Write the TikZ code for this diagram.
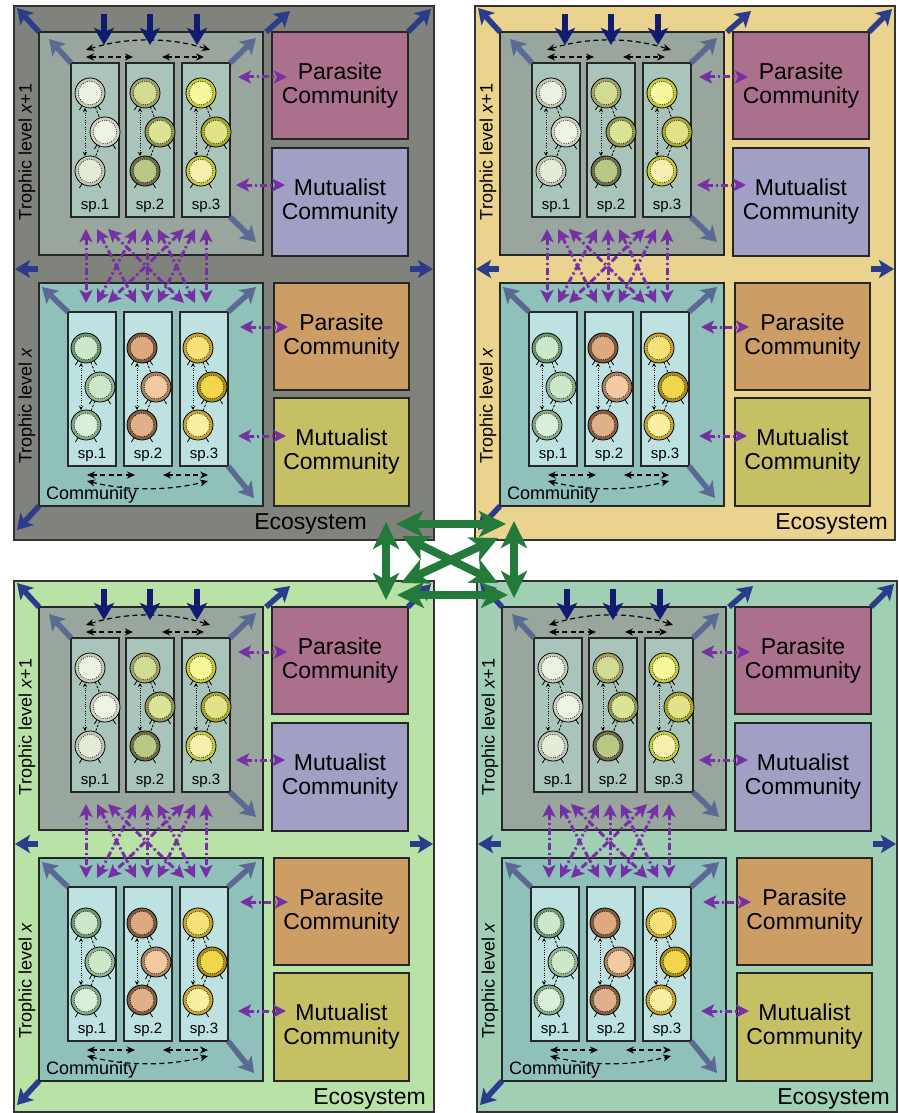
\documentclass[tikz,border=0pt]{standalone}
\usepackage{fontspec}
\setmainfont{Liberation Sans}
\usetikzlibrary{arrows.meta,calc}

\definecolor{bgTL}{HTML}{80827C}
\definecolor{bgTR}{HTML}{E9D38F}
\definecolor{bgBL}{HTML}{B9E2A6}
\definecolor{bgBR}{HTML}{A1CFB4}
\definecolor{upbox}{HTML}{98A69E}
\definecolor{spU}{HTML}{A9C4BB}
\definecolor{lobox}{HTML}{8FC0B9}
\definecolor{spL}{HTML}{BEE1E1}
\definecolor{parU}{HTML}{AA708C}
\definecolor{mutU}{HTML}{A1A0C4}
\definecolor{parL}{HTML}{CC9E66}
\definecolor{mutL}{HTML}{C5C064}
\definecolor{navyc}{HTML}{111C6E}
\definecolor{bluec}{HTML}{2A3C8A}
\definecolor{slatec}{HTML}{5B6A92}
\definecolor{purp}{HTML}{7530A3}
\definecolor{greenc}{HTML}{237A3B}
% upper circles: ring / inner
\definecolor{ru11}{HTML}{C3CBB5}\definecolor{iu11}{HTML}{EAF3E3}
\definecolor{ru12}{HTML}{D0D4C4}\definecolor{iu12}{HTML}{EDF4E6}
\definecolor{ru13}{HTML}{C4C8B8}\definecolor{iu13}{HTML}{E2EDD8}
\definecolor{ru21}{HTML}{A0A46E}\definecolor{iu21}{HTML}{D2DB92}
\definecolor{ru22}{HTML}{8E9658}\definecolor{iu22}{HTML}{DCE394}
\definecolor{ru23}{HTML}{6E6E48}\definecolor{iu23}{HTML}{B8C985}
\definecolor{ru31}{HTML}{C8CB3C}\definecolor{iu31}{HTML}{F6F89C}
\definecolor{ru32}{HTML}{A8AA2E}\definecolor{iu32}{HTML}{E2E28A}
\definecolor{ru33}{HTML}{C8CB3C}\definecolor{iu33}{HTML}{F5F0B0}
% lower circles
\definecolor{rl11}{HTML}{6B9870}\definecolor{il11}{HTML}{CBE8CA}
\definecolor{rl12}{HTML}{94B494}\definecolor{il12}{HTML}{CBE8C9}
\definecolor{rl13}{HTML}{84AC84}\definecolor{il13}{HTML}{DAEEDA}
\definecolor{rl21}{HTML}{7E5C40}\definecolor{il21}{HTML}{DDAA80}
\definecolor{rl22}{HTML}{A88464}\definecolor{il22}{HTML}{F2C9A0}
\definecolor{rl23}{HTML}{84603E}\definecolor{il23}{HTML}{DFB08A}
\definecolor{rl31}{HTML}{C9A52F}\definecolor{il31}{HTML}{F7E27A}
\definecolor{rl32}{HTML}{A88D1E}\definecolor{il32}{HTML}{F0D64A}
\definecolor{rl33}{HTML}{C9A52F}\definecolor{il33}{HTML}{F8EFA0}

\newcommand\fBig{\fontsize{23pt}{24pt}\selectfont}
\newcommand\fMid{\fontsize{18pt}{20pt}\selectfont}
\newcommand\fSml{\fontsize{15pt}{17pt}\selectfont}

\tikzset{
  panelbox/.style={draw=black!80, line width=1.2pt, anchor=north west, inner sep=0pt, outer sep=0pt},
  tbox/.style={draw=black!85, line width=1.1pt, anchor=north west, inner sep=0pt, outer sep=0pt},
  spbox/.style={tbox, minimum width=48pt, minimum height=154pt},
  combox/.style={tbox, align=center, font=\fBig, minimum width=136pt},
  orgnode/.style={circle, draw=black, line width=0.8pt, minimum size=30pt, inner sep=0pt, outer sep=0pt},
  splab/.style={font=\fSml, inner sep=0pt},
  navyarr/.style={draw=navyc, line width=5.5pt, -{Stealth[length=17pt,width=20pt,inset=4pt]}},
  bluearr/.style={draw=bluec, line width=5.5pt, -{Stealth[length=15pt,width=18pt,inset=3.5pt]}},
  slatearr/.style={draw=slatec, line width=5.5pt, -{Stealth[length=15pt,width=18pt,inset=3.5pt]}},
  purparr/.style={draw=purp, fill=purp, line width=3pt, dash pattern=on 7pt off 3pt on 2pt off 3pt,
     {Stealth[length=13pt,width=13pt,inset=3pt]}-{Stealth[length=13pt,width=13pt,inset=3pt]}},
  blkarr/.style={draw=black, line width=1.2pt, dash pattern=on 5pt off 3.5pt,
     {Stealth[length=8pt,width=7pt]}-{Stealth[length=8pt,width=7pt]}},
  vdot/.style={draw=black, line width=0.8pt, dash pattern=on 1pt off 1.3pt,
     {Stealth[length=4pt,width=4pt]}-{Stealth[length=4pt,width=4pt]}},
  ddash/.style={draw=black, line width=0.8pt, dash pattern=on 2.5pt off 1.5pt},
  greenarr/.style={draw=greenc, line width=8pt,
     {Stealth[length=27pt,width=26pt,inset=7pt]}-{Stealth[length=27pt,width=26pt,inset=7pt]}},
}

% organism circle: name, x, y, ring colour, inner colour
\newcommand\orgc[5]{%
  \node[orgnode, fill=#4] (#1) at (#2,#3) {};
  \fill[#5] (#1.center) circle[radius=11.8pt];
  \draw[black, line width=0.7pt, dash pattern=on 0.8pt off 1.5pt] (#1.center) circle[radius=11.8pt];
  \draw[black, line width=0.8pt] (#1.-122) -- ++(-122:5pt);
  \draw[black, line width=0.8pt] (#1.-58) -- ++(-58:5pt);
}

% ecosystem panel: prefix, x, y, background, height, x of right end of "Ecosystem"
\newcommand\ecopanel[6]{%
\begin{scope}[shift={(#2,#3)}]
  \node[panelbox, fill=#4, minimum width=420pt, minimum height=#5pt] (#1eco) at (0,0) {};
  \node[tbox, fill=upbox, minimum width=224pt, minimum height=223pt] (#1up) at (25,26) {};
  \node[tbox, fill=lobox, minimum width=224pt, minimum height=223pt] (#1lo) at (25,277) {};
  \node[combox, fill=parU, minimum height=107pt] (#1parU) at (258,26) {Parasite\\Community};
  \node[combox, fill=mutU, minimum height=108pt] (#1mutU) at (258,142) {Mutualist\\Community};
  \node[combox, fill=parL, minimum width=135pt, minimum height=107pt] (#1parL) at (260,277) {Parasite\\Community};
  \node[combox, fill=mutL, minimum width=135pt, minimum height=108pt] (#1mutL) at (260,392) {Mutualist\\Community};
  % labels
  \node[rotate=90, font=\fMid, inner sep=0pt] (#1tlu) at (13,146) {Trophic level \textit{x}+1};
  \node[rotate=90, font=\fMid, inner sep=0pt] (#1tll) at (13,400) {Trophic level \textit{x}};
  \node[font=\fMid, anchor=west, inner sep=0pt] (#1com) at (32,489) {Community};
  \node[font=\fBig, anchor=east, inner sep=0pt] (#1ecl) at (#6,518) {Ecosystem};
  % upper species
  \foreach \k/\xx in {1/57,2/112,3/168}{
    \node[spbox, fill=spU] (#1su\k) at (\xx,57) {};
    \node[splab] (#1sul\k) at (\xx+24,200) {sp.\k};
    \orgc{#1cu\k1}{\xx+19}{87}{ru\k1}{iu\k1}
    \orgc{#1cu\k2}{\xx+34}{126}{ru\k2}{iu\k2}
    \orgc{#1cu\k3}{\xx+19}{165}{ru\k3}{iu\k3}
    \draw[vdot] ([xshift=-5pt]#1cu\k1.south) -- ([xshift=-5pt]#1cu\k3.north);
    \draw[ddash] (#1cu\k1) -- (#1cu\k2);
    \draw[ddash] (#1cu\k2) -- (#1cu\k3);
  }
  % lower species
  \foreach \k/\xx in {1/54,2/110,3/166}{
    \node[spbox, fill=spL] (#1sl\k) at (\xx,306) {};
    \node[splab] (#1sll\k) at (\xx+24,449) {sp.\k};
    \orgc{#1cl\k1}{\xx+18}{342}{rl\k1}{il\k1}
    \orgc{#1cl\k2}{\xx+32}{381}{rl\k2}{il\k2}
    \orgc{#1cl\k3}{\xx+18}{419}{rl\k3}{il\k3}
    \draw[vdot] ([xshift=-5pt]#1cl\k1.south) -- ([xshift=-5pt]#1cl\k3.north);
    \draw[ddash] (#1cl\k1) -- (#1cl\k2);
    \draw[ddash] (#1cl\k2) -- (#1cl\k3);
  }
  % black dashed interactions among species
  \draw[blkarr] (72,51) -- (119,51);
  \draw[blkarr] (148,51) -- (190,51);
  \draw[blkarr] (72,44) .. controls (112,31) and (156,31) .. (196,44);
  \draw[blkarr] (73,469) -- (121,469);
  \draw[blkarr] (149,469) -- (194,469);
  \draw[blkarr] (73,475) .. controls (113,485) and (154,485) .. (194,475);
  % navy inputs
  \foreach \xx in {90,136,183}{
    \coordinate (#1nin\xx) at (\xx,8);
    \draw[navyarr] (#1nin\xx) -- (\xx,39);
  }
  % slate arrows in trophic boxes
  \draw[slatearr] (#1su1.north west) -- ++(-22,-24);
  \draw[slatearr] (#1su3.north east) -- ++(26,-25);
  \draw[slatearr] (#1su3.south east) -- ++(26,25);
  \draw[slatearr] (#1sl1.north west) -- ++(-26,-25);
  \draw[slatearr] (#1sl3.north east) -- ++(28,-25);
  \draw[slatearr] (#1sl3.south east) -- ++(26,32);
  % blue arrows of the ecosystem
  \draw[bluearr] (#1up.north west) -- ++(-22,-24);
  \draw[bluearr] ([xshift=3pt]#1up.north east) -- ++(24,-21);
  \draw[bluearr] (#1parU.north east) -- ++(23,-23);
  \draw[bluearr] (24,263) -- ++(-23,0);
  \draw[bluearr] (396,263) -- ++(23,0);
  \draw[bluearr] (#1lo.south west) -- ++(-22,24);
  % purple links to parasites and mutualists
  \draw[purparr] (224,71) -- (273,71);
  \draw[purparr] (222,179) -- (271,179);
  \draw[purparr] (226,321) -- (274,321);
  \draw[purparr] (224,430) -- (272,430);
  % purple links between trophic levels
  \foreach \i/\xi in {1/72,2/133,3/192}{
    \foreach \j/\xj in {1/72,2/133,3/192}{
      \coordinate (#1pu\i\j) at ({\xi+11*(\j-\i)},223);
      \coordinate (#1pl\i\j) at ({\xj+11*(\i-\j)},297);
      \draw[purparr] (#1pu\i\j) -- (#1pl\i\j);
    }
  }
\end{scope}
}

\begin{document}
\begin{tikzpicture}[x=1pt,y=-1pt]
  \fill[white] (0,0) rectangle (898,1113);
  \useasboundingbox (0,0) rectangle (898,1113);
  \ecopanel{tl}{14}{6}{bgTL}{534}{353}
  \ecopanel{tr}{475}{6}{bgTR}{534}{413}
  \ecopanel{bl}{14}{581}{bgBL}{531}{412}
  \ecopanel{br}{477}{581}{bgBR}{531}{413}
  % green links between ecosystems
  \coordinate (g1a) at (396,524); \coordinate (g1b) at (506,524);
  \coordinate (g2a) at (397,595); \coordinate (g2b) at (508,595);
  \coordinate (g3a) at (386,522); \coordinate (g3b) at (386,600);
  \coordinate (g4a) at (514,521); \coordinate (g4b) at (514,598);
  \coordinate (g5a) at (402,536); \coordinate (g5b) at (498,583);
  \coordinate (g6a) at (498,538); \coordinate (g6b) at (401,583);
  \draw[greenarr] (g1a) -- (g1b);
  \draw[greenarr] (g2a) -- (g2b);
  \draw[greenarr] (g3a) -- (g3b);
  \draw[greenarr] (g4a) -- (g4b);
  \draw[greenarr] (g5a) -- (g5b);
  \draw[greenarr] (g6a) -- (g6b);
\end{tikzpicture}
\end{document}
